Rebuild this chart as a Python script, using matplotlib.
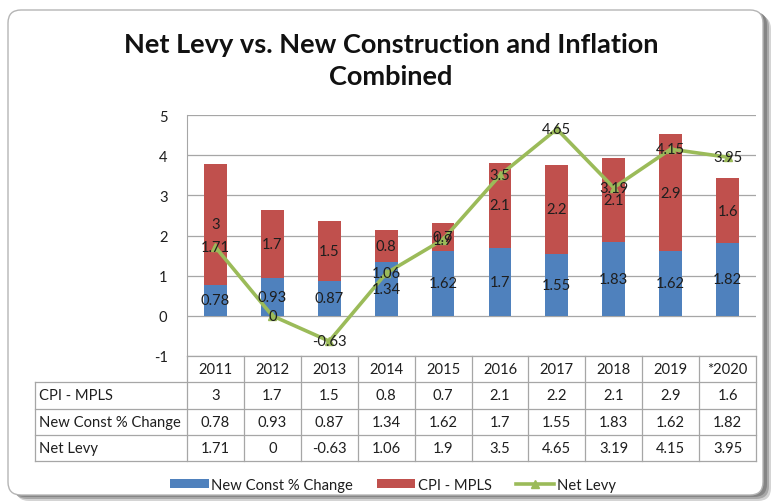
import matplotlib
matplotlib.use("Agg")
import matplotlib.pyplot as plt
import numpy as np
from matplotlib.patches import FancyBboxPatch, Patch
from matplotlib.lines import Line2D
from matplotlib.transforms import IdentityTransform

plt.rcParams['font.family'] = ['Lato', 'DejaVu Sans']
plt.rcParams['axes.unicode_minus'] = False

years = ['2011', '2012', '2013', '2014', '2015', '2016', '2017', '2018', '2019', '*2020']
cpi = [3, 1.7, 1.5, 0.8, 0.7, 2.1, 2.2, 2.1, 2.9, 1.6]
new_const = [0.78, 0.93, 0.87, 1.34, 1.62, 1.7, 1.55, 1.83, 1.62, 1.82]
net_levy = [1.71, 0, -0.63, 1.06, 1.9, 3.5, 4.65, 3.19, 4.15, 3.95]

row_names = ['CPI - MPLS', 'New Const % Change', 'Net Levy']
row_values = [cpi, new_const, net_levy]

BLUE = '#4F81BD'
RED = '#C0504D'
GREEN = '#9BBB59'
GRID = '#A6A6A6'
TXT = '#1E1E1E'
FS = 10.6

W, H = 773, 502
fig = plt.figure(figsize=(W / 100, H / 100), dpi=100)

# rounded frame with a soft shadow on the right/bottom
for k, (off, col) in enumerate([(8, '#d4d4d4'), (6, '#a8a8a8'), (4, '#858585')]):
    sh = FancyBboxPatch((8 + off, 6 - off + 2), 755, 485, boxstyle='round,pad=0,rounding_size=13',
                        transform=IdentityTransform(), facecolor=col, edgecolor='none', zorder=-5 + k)
    fig.add_artist(sh)
frame = FancyBboxPatch((8, 6), 755, 485, boxstyle='round,pad=0,rounding_size=13',
                       transform=IdentityTransform(), facecolor='white', edgecolor='#B5B5B5',
                       linewidth=1.0, zorder=-1)
fig.add_artist(frame)

fig.text(391 / W, 1 - 45 / H, 'Net Levy vs. New Construction and Inflation',
         ha='center', va='center', fontsize=19.5, fontweight='bold', color='#111111')
fig.text(391 / W, 1 - 77 / H, 'Combined',
         ha='center', va='center', fontsize=19.5, fontweight='bold', color='#111111')

# chart area
x0, x1, ytop, ybot = 187, 756, 116, 357
ax = fig.add_axes([x0 / W, 1 - ybot / H, (x1 - x0) / W, (ybot - ytop) / H])
x = np.arange(len(years))
ax.bar(x, new_const, width=0.4, color=BLUE, zorder=3)
ax.bar(x, cpi, width=0.4, bottom=new_const, color=RED, zorder=3)
ax.plot(x, net_levy, color=GREEN, linewidth=2.6, marker='^', markersize=6,
        markerfacecolor=GREEN, markeredgecolor=GREEN, zorder=4)

for i in range(len(years)):
    ax.text(x[i], new_const[i] / 2, f'{new_const[i]:g}', ha='center', va='center',
            fontsize=FS, color=TXT, zorder=5)
    ax.text(x[i], new_const[i] + cpi[i] / 2, f'{cpi[i]:g}', ha='center', va='center',
            fontsize=FS, color=TXT, zorder=5)
    ax.text(x[i], net_levy[i], f'{net_levy[i]:g}', ha='center', va='center',
            fontsize=FS, color=TXT, zorder=6)

ax.set_xlim(-0.5, len(years) - 0.5)
ax.set_ylim(-1, 5)
ax.set_yticks(range(-1, 6))
ax.yaxis.grid(True, color=GRID, linewidth=0.9, zorder=0)
ax.set_axisbelow(True)
ax.set_xticks([])
ax.tick_params(axis='y', length=0, pad=14, labelsize=FS, labelcolor=TXT)
for s in ['top', 'right', 'bottom']:
    ax.spines[s].set_visible(False)
ax.spines['left'].set_color(GRID)
ax.patch.set_alpha(0)

# data table under the chart, columns aligned with the categories
tb = fig.add_axes([x0 / W, 1 - 462 / H, (x1 - x0) / W, (462 - ybot) / H])
tb.set_xlim(-0.5, len(years) - 0.5)
tb.set_ylim(4, 0)
tb.axis('off')
left = -0.5 - (x0 - 35) / ((x1 - x0) / len(years))

lk = dict(color=GRID, linewidth=0.9, clip_on=False)
tb.plot([-0.5, len(years) - 0.5], [0, 0], **lk)
for r in range(1, 5):
    tb.plot([left, len(years) - 0.5], [r, r], **lk)
tb.plot([left, left], [1, 4], **lk)
for c in range(len(years) + 1):
    tb.plot([c - 0.5, c - 0.5], [0, 4], **lk)

for i, yr in enumerate(years):
    tb.text(i, 0.5, yr, ha='center', va='center', fontsize=FS, color=TXT)
for r, (name, vals) in enumerate(zip(row_names, row_values), start=1):
    tb.text(left + 0.07, r + 0.5, name, ha='left', va='center', fontsize=FS, color=TXT, clip_on=False)
    for i, v in enumerate(vals):
        tb.text(i, r + 0.5, f'{v:g}', ha='center', va='center', fontsize=FS, color=TXT)

handles = [Patch(facecolor=BLUE, edgecolor='none', label='New Const % Change'),
           Patch(facecolor=RED, edgecolor='none', label='CPI - MPLS'),
           Line2D([], [], color=GREEN, linewidth=2.6, marker='^', markersize=6, label='Net Levy')]
fig.legend(handles=handles, loc='center', bbox_to_anchor=(393 / W, 1 - 486 / H), ncol=3,
           frameon=False, fontsize=FS, handlelength=2.6, handleheight=0.55,
           handletextpad=0.2, columnspacing=1.6, labelcolor=TXT)

fig.savefig('out.png', dpi=100)
